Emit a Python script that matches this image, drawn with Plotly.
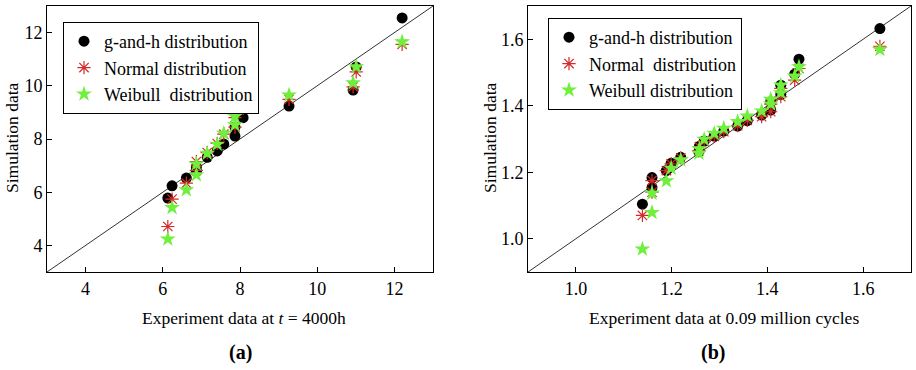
import plotly.graph_objects as go

# ---- Panel (a) data ----
exp_a = [6.13, 6.24, 6.61, 6.87, 6.87, 7.15, 7.41, 7.58, 7.87, 7.87, 8.08, 9.27, 10.93, 11.01, 12.2]
gh_a = [5.78, 6.24, 6.53, 6.78, 6.95, 7.31, 7.55, 7.81, 8.11, 8.45, 8.80, 9.24, 9.84, 10.71, 12.55]
normal_a = [4.71, 5.74, 6.34, 6.82, 7.15, 7.49, 7.83, 8.18, 8.45, 8.80, 9.15, 9.49, 9.96, 10.52, 11.56]
weibull_a = [4.24, 5.42, 6.09, 6.65, 7.06, 7.46, 7.80, 8.21, 8.53, 8.85, 9.25, 9.65, 10.11, 10.71, 11.65]

# ---- Panel (b) data ----
exp_b = [1.139, 1.159, 1.159, 1.189, 1.199, 1.219, 1.257, 1.258, 1.268, 1.289, 1.309,
         1.338, 1.358, 1.388, 1.407, 1.407, 1.428, 1.428, 1.457, 1.466, 1.635]
gh_b = [1.104, 1.154, 1.184, 1.205, 1.227, 1.245, 1.262, 1.278, 1.294, 1.309, 1.324,
        1.339, 1.355, 1.372, 1.387, 1.412, 1.434, 1.462, 1.495, 1.540, 1.632]
normal_b = [1.070, 1.140, 1.175, 1.205, 1.225, 1.243, 1.265, 1.277, 1.292, 1.308, 1.322,
            1.340, 1.356, 1.367, 1.382, 1.405, 1.427, 1.452, 1.477, 1.512, 1.579]
weibull_b = [0.969, 1.079, 1.137, 1.174, 1.212, 1.237, 1.257, 1.270, 1.299, 1.317, 1.332,
             1.352, 1.369, 1.384, 1.405, 1.419, 1.439, 1.462, 1.489, 1.517, 1.569]

range_a = [3, 13]
range_b = [0.9, 1.7]
ticks_a = [4, 6, 8, 10, 12]
ticks_b = [1.0, 1.2, 1.4, 1.6]

labels_a = ["g-and-h distribution", "Normal distribution", "Weibull  distribution"]
labels_b = ["g-and-h distribution", "Normal  distribution", "Weibull distribution"]

FONT = "Liberation Serif"
BLACK = "#000000"
RED = "#d42a2a"
GREEN = "#6ef03c"

fig = go.Figure()

def add_panel(xs, gh, nm, wb, labels, xa, ya, legend, rng):
    fig.add_trace(go.Scatter(x=rng, y=rng, mode="lines", line=dict(color="#333333", width=1),
                             xaxis=xa, yaxis=ya, showlegend=False, hoverinfo="skip"))
    fig.add_trace(go.Scatter(x=xs, y=gh, mode="markers", name=labels[0],
                             marker=dict(symbol="circle", size=11, color=BLACK),
                             xaxis=xa, yaxis=ya, legend=legend))
    fig.add_trace(go.Scatter(x=xs, y=nm, mode="markers", name=labels[1],
                             marker=dict(symbol="asterisk-open", size=11, color=RED,
                                         line=dict(color=RED, width=1.2)),
                             xaxis=xa, yaxis=ya, legend=legend))
    fig.add_trace(go.Scatter(x=xs, y=wb, mode="markers", name=labels[2],
                             marker=dict(symbol="star", size=12, color=GREEN,
                                         line=dict(width=0)),
                             xaxis=xa, yaxis=ya, legend=legend))

add_panel(exp_a, gh_a, normal_a, weibull_a, labels_a, "x", "y", "legend", range_a)
add_panel(exp_b, gh_b, normal_b, weibull_b, labels_b, "x2", "y2", "legend2", range_b)

W, H = 916, 370
ydom = [1 - 272 / H, 1 - 6 / H]

axis_common = dict(showline=True, linecolor="black", linewidth=1, mirror=True,
                   ticks="inside", ticklen=5, tickcolor="black", showgrid=False,
                   zeroline=False, tickfont=dict(family=FONT, size=18, color="black"))

legend_common = dict(xanchor="left", yanchor="top", bordercolor="black", borderwidth=1,
                     bgcolor="white", font=dict(family=FONT, size=18, color="black"),
                     tracegroupgap=0)

fig.update_layout(
    width=W, height=H,
    margin=dict(l=0, r=0, t=0, b=0),
    paper_bgcolor="white", plot_bgcolor="white",
    font=dict(family=FONT, color="black"),
    xaxis=dict(domain=[47 / W, 433 / W], range=range_a, tickvals=ticks_a, anchor="y", **axis_common),
    yaxis=dict(domain=ydom, range=range_a, tickvals=ticks_a, anchor="x", **axis_common),
    xaxis2=dict(domain=[528 / W, 911 / W], range=range_b, tickvals=ticks_b, tickformat=".1f",
                anchor="y2", **axis_common),
    yaxis2=dict(domain=ydom, range=range_b, tickvals=ticks_b, tickformat=".1f",
                anchor="x2", **axis_common),
    legend=dict(x=63 / W, y=1 - 22 / H, **legend_common),
    legend2=dict(x=548 / W, y=1 - 18 / H, **legend_common),
    showlegend=True,
)

annots = [
    dict(text="Experiment data at <i>t</i> = 4000h", x=244 / W, y=1 - 318 / H, size=17.5),
    dict(text="Experiment data at 0.09 million cycles", x=724 / W, y=1 - 318 / H, size=17.5),
    dict(text="<b>(a)</b>", x=241 / W, y=1 - 352 / H, size=20),
    dict(text="<b>(b)</b>", x=713 / W, y=1 - 352 / H, size=20),
]
for a in annots:
    fig.add_annotation(text=a["text"], x=a["x"], y=a["y"], xref="paper", yref="paper",
                       xanchor="center", yanchor="middle", showarrow=False,
                       font=dict(family=FONT, size=a["size"], color="black"))

for xpos in [12, 490]:
    fig.add_annotation(text="Simulation data", x=xpos / W, y=1 - 138 / H, xref="paper", yref="paper",
                       xanchor="center", yanchor="middle", showarrow=False, textangle=-90,
                       font=dict(family=FONT, size=17.5, color="black"))

fig.write_html("out.html")
